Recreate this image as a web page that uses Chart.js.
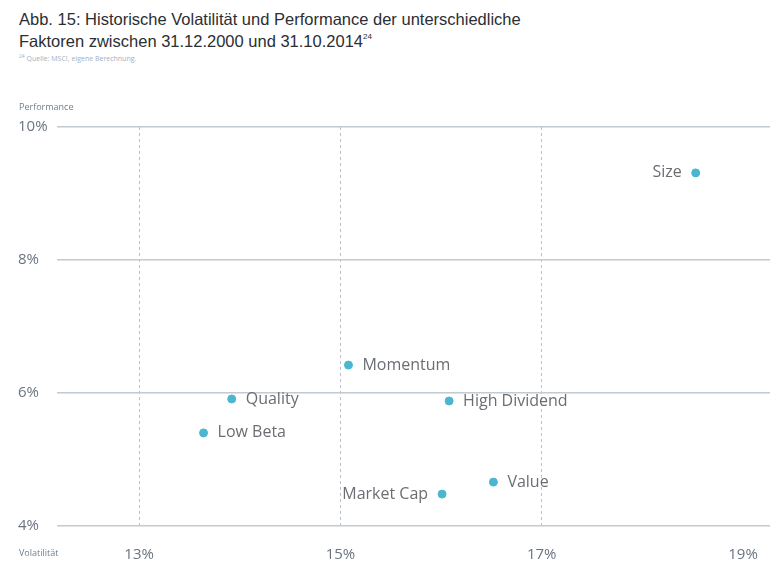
<!DOCTYPE html>
<html lang="de">
<head>
<meta charset="UTF-8" />
<title>Volatilität und Performance</title>
<script src="https://cdn.jsdelivr.net/npm/chart.js"></script>
<style>
    body { margin: 0; background: #fff; width: 770px; height: 576px; overflow: hidden; position: relative; }
    #title {
        position: absolute; left: 19px; top: 10px;
        font-family: "Liberation Sans", Arial, sans-serif; font-size: 16.5px; line-height: 18px;
        color: #2b2e33;
    }
    #title sup { font-size: 8px; vertical-align: 8px; }
    #source {
        position: absolute; left: 19px; top: 53px;
        font-family: "Open Sans", sans-serif; font-size: 7px; color: #9fb1bf;
    }
    #source sup { font-size: 5px; }
    /* a bit wider than the window so the grid runs to the right edge */
    #chartContainer { position: absolute; left: 0; top: 0; width: 779px; height: 576px; }
</style>
</head>
<body>

<div id="title">Abb. 15: Historische Volatilität und Performance der unterschiedliche<br>Faktoren zwischen 31.12.2000 und 31.10.2014<sup>24</sup></div>
<div id="source"><sup>24</sup> Quelle: MSCI, eigene Berechnung.</div>

<div id="chartContainer">
    <canvas id="myChart"></canvas>
</div>

<script>
    // Faktoren, Volatilität (x) und Performance (y) in Prozent
    const factors     = ['Size', 'Momentum', 'Quality', 'High Dividend', 'Low Beta', 'Value', 'Market Cap'];
    const volatility  = [18.53, 15.08, 13.92, 16.08, 13.64, 16.52, 16.01];
    const performance = [9.31, 6.42, 5.91, 5.88, 5.40, 4.66, 4.48];
    const labelSide   = ['left', 'right', 'right', 'right', 'right', 'right', 'left'];

    const xTicks = [13, 15, 17, 19];
    const yTicks = [4, 6, 8, 10];

    const points = factors.map((f, i) => ({ x: volatility[i], y: performance[i] }));

    // point labels next to each dot
    const pointLabels = {
        id: 'pointLabels',
        afterDatasetsDraw(chart) {
            const ctx = chart.ctx;
            const meta = chart.getDatasetMeta(0);
            ctx.save();
            ctx.font = '16px "Open Sans", sans-serif';
            ctx.fillStyle = '#6a6e73';
            ctx.textBaseline = 'middle';
            meta.data.forEach((pt, i) => {
                if (labelSide[i] === 'left') {
                    ctx.textAlign = 'right';
                    ctx.fillText(factors[i], pt.x - 14, pt.y);
                } else {
                    ctx.textAlign = 'left';
                    ctx.fillText(factors[i], pt.x + 14, pt.y);
                }
            });
            // axis captions
            ctx.font = '9px "Open Sans", sans-serif';
            ctx.fillStyle = '#6f8090';
            ctx.textAlign = 'left';
            ctx.fillText('Performance', 19, 107);
            ctx.fillText('Volatilität', 19, 553);
            ctx.restore();
        }
    };

    const ctx = document.getElementById('myChart').getContext('2d');
    new Chart(ctx, {
        type: 'scatter',
        data: {
            datasets: [{
                data: points,
                backgroundColor: '#4bb6cf',
                borderColor: '#4bb6cf',
                pointRadius: 4,
                pointHoverRadius: 4
            }]
        },
        options: {
            responsive: true,
            maintainAspectRatio: false,
            animation: false,
            layout: { padding: { top: 127, right: 0, bottom: 0, left: 18 } },
            plugins: { legend: { display: false }, tooltip: { enabled: false } },
            scales: {
                x: {
                    type: 'linear',
                    min: 12.184,
                    max: 19.308,
                    afterBuildTicks: s => { s.ticks = xTicks.map(v => ({ value: v })); },
                    afterFit: s => { s.height = 50; },
                    grid: {
                        drawTicks: false,
                        color: c => (c.tick && c.tick.value === 19) ? 'rgba(0,0,0,0)' : '#b9c0c7',
                        lineWidth: 1
                    },
                    border: { display: false, dash: [3, 3] },
                    ticks: {
                        padding: 20,
                        color: '#6a7480',
                        font: { family: '"Open Sans", sans-serif', size: 15 },
                        callback: v => v + '%'
                    }
                },
                y: {
                    type: 'linear',
                    min: 4,
                    max: 10,
                    afterBuildTicks: s => { s.ticks = yTicks.map(v => ({ value: v })); },
                    afterFit: s => { s.width = 39; },
                    border: { display: false },
                    grid: { drawTicks: false, color: '#c3cad0', lineWidth: 1.5 },
                    ticks: {
                        crossAlign: 'far',
                        padding: 0,
                        color: '#6a7480',
                        font: { family: '"Open Sans", sans-serif', size: 15 },
                        callback: v => v + '%'
                    }
                }
            }
        },
        plugins: [pointLabels]
    });
</script>

</body>
</html>
